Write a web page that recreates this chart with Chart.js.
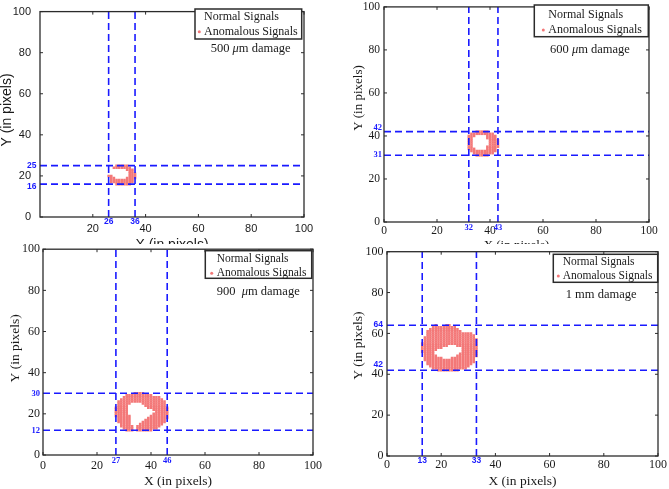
<!DOCTYPE html>
<html>
<head>
<meta charset="utf-8">
<script src="https://cdn.jsdelivr.net/npm/chart.js@4.4.1/dist/chart.umd.min.js"></script>
<style>
  html, body { margin: 0; padding: 0; background: #fff; }
  body { width: 669px; height: 489px; position: relative; overflow: hidden; }
  .clip { position: absolute; overflow: hidden; }
  canvas { position: absolute; }
</style>
</head>
<body>
<script>
// ─── data ───────────────────────────────────────────────────────────────
const axisTicks = [0, 20, 40, 60, 80, 100];
const axisTicksNoZero = [20, 40, 60, 80, 100];
const seriesLabels = ['Normal Signals', 'Anomalous Signals'];
const axisTitles = ['X (in pixels)', 'Y (in pixels)'];
const normalSignals = [];

// anomalous pixels, one run per row: [y, xStart, xEnd]
const rows500 = [
  [25, 29, 33], [24, 28, 34], [23, 33, 35], [22, 34, 35], [21, 34, 36],
  [20, 26, 27], [20, 34, 36], [19, 27, 28], [19, 33, 36],
  [18, 27, 35], [17, 27, 35], [16, 29, 34]
];
const xBounds500 = [26, 36];
const yBounds500 = [16, 25];
const damage500 = ['500 ', 'μ', 'm damage'];

const rows600 = [
  [42, 35, 39], [41, 33, 41], [40, 32, 34], [40, 39, 42],
  [39, 32, 33], [39, 39, 42], [38, 32, 33], [38, 40, 43],
  [37, 32, 33], [37, 40, 43], [36, 32, 33], [36, 40, 43],
  [35, 32, 33], [35, 39, 43], [34, 32, 34], [34, 39, 42],
  [33, 33, 42], [32, 34, 41], [31, 35, 39]
];
const xBounds600 = [32, 43];
const yBounds600 = [31, 42];
const damage600 = ['600 ', 'μ', 'm damage'];

const rows900 = [
  [30, 34, 37], [29, 31, 40], [28, 30, 43], [27, 29, 44], [26, 28, 45],
  [25, 28, 32], [25, 37, 45], [24, 28, 31], [24, 38, 45],
  [23, 27, 31], [23, 39, 46], [22, 27, 31], [22, 41, 46],
  [21, 27, 31], [21, 42, 46], [20, 27, 31], [20, 41, 46],
  [19, 27, 32], [19, 40, 46], [18, 28, 32], [18, 39, 46],
  [17, 28, 32], [17, 38, 45], [16, 28, 32], [16, 37, 45],
  [15, 29, 32], [15, 36, 44], [14, 29, 33], [14, 35, 43],
  [13, 30, 33], [13, 35, 42], [12, 31, 33], [12, 35, 40]
];
const xBounds900 = [27, 46];
const yBounds900 = [12, 30];
const damage900 = ['900  ', 'μ', 'm damage'];

const rows1mm = [
  [64, 18, 18], [64, 22, 23], [63, 17, 25], [62, 16, 26], [61, 15, 27],
  [60, 15, 31], [59, 15, 32], [58, 14, 32], [57, 14, 33], [56, 14, 33], [55, 13, 33],
  [54, 13, 22], [54, 26, 33], [53, 13, 20], [53, 28, 33],
  [52, 13, 18], [52, 28, 33], [51, 13, 17], [51, 28, 33],
  [50, 14, 17], [50, 27, 33], [49, 14, 18], [49, 26, 33],
  [48, 14, 20], [48, 24, 32], [47, 14, 32], [46, 15, 32],
  [45, 15, 31], [44, 16, 30], [43, 17, 29], [42, 19, 26]
];
const xBounds1mm = [13, 33];
const yBounds1mm = [42, 64];
const damage1mm = ['1 mm damage'];

// ─── helpers ─────────────────────────────────────────────────────────────
function rowsToPoints(rows) {
  const pts = [];
  rows.forEach(function(r) {
    for (let x = r[1]; x <= r[2]; x++) pts.push({ x: x, y: r[0] });
  });
  return pts;
}

const SANS = "'Liberation Sans', Arial, sans-serif";
const SERIF = "'Liberation Serif', 'Times New Roman', serif";
const BLUE = '#1a1aff';
const RED = '#f37878';
const INK = '#1a1a1a';

// panel layout (page pixels)
const panels = [
  { rows: rows500, xBounds: xBounds500, yBounds: yBounds500, damage: damage500, xTicks: axisTicksNoZero,
    clip: [0, 0, 335, 244], cv: [-2, -4, 337, 258], padTop: 10, padRight: 31, yW: 42, xH: 37,
    tickFont: SANS, tickSize: 11, titleFont: SANS, titleSize: 14, xPad: 5, yPad: 9, yTitle: [6.7, 110],
    boundFont: 'bold 8.5px ' + SANS, xBoundDy: 5, yBoundDx: 3.5, yBoundDy: [2.7, 0],
    legFont: 12, leg: [195, 9, 106.7, 30], legText: 9, legMark: 4.3, legRows: [7.7, 22.7],
    dmgSize: 12.5, dmg: [15.7, 39.3] },
  { rows: rows600, xBounds: xBounds600, yBounds: yBounds600, damage: damage600, xTicks: axisTicks,
    clip: [335, 0, 334, 244], cv: [350, -4, 319, 257], padTop: 10, padRight: 20, yW: 34, xH: 31,
    tickFont: SERIF, tickSize: 11.5, titleFont: SERIF, titleSize: 13, xPad: 2, yPad: 4, yTitle: [358.3, 98],
    boundFont: 'bold 8.5px ' + SERIF, xBoundDy: 5.5, yBoundDx: 2, yBoundDy: [-0.8, -3.8],
    legFont: 12, leg: [534.3, 5, 114, 31.7], legText: 14, legMark: 9, legRows: [10, 25],
    dmgSize: 12.5, dmg: [15.7, 44.3] },
  { rows: rows900, xBounds: xBounds900, yBounds: yBounds900, damage: damage900, xTicks: axisTicks,
    clip: null, cv: [7, 239, 328, 251], padTop: 10, padRight: 22, yW: 36, xH: 35,
    tickFont: SERIF, tickSize: 12, titleFont: SERIF, titleSize: 13.5, xPad: 4, yPad: 3, yTitle: [15, 348.3],
    boundFont: 'bold 8.5px ' + SERIF, xBoundDy: 6, yBoundDx: 3, yBoundDy: [0, 0.8],
    legFont: 11.5, leg: [205.3, 250.7, 106.4, 27.6], legText: 11.4, legMark: 6.4, legRows: [8.3, 22.6],
    dmgSize: 12.5, dmg: [11.4, 41] },
  { rows: rows1mm, xBounds: xBounds1mm, yBounds: yBounds1mm, damage: damage1mm, xTicks: axisTicks,
    clip: null, cv: [350, 241, 319, 249], padTop: 10, padRight: 10, yW: 37, xH: 34,
    tickFont: SERIF, tickSize: 12, titleFont: SERIF, titleSize: 13.5, xPad: 2, yPad: 3.5, yTitle: [358.3, 345.7],
    boundFont: 'bold 8.5px ' + SANS, xBoundDy: 5, yBoundDx: 4, yBoundDy: [-5.6, -0.8],
    legFont: 11.5, leg: [553.3, 254.3, 104.4, 28], legText: 9.4, legMark: 5, legRows: [7.4, 21.7],
    dmgSize: 12.5, dmg: [12.4, 40.7] }
];

// ─── decoration plugin: frame, inner ticks, y title, bound labels, legend ─
function decorPlugin(p) {
  return {
    id: 'decor',
    afterDatasetsDraw: function(chart) {
      const ctx = chart.ctx, a = chart.chartArea;
      const xs = chart.scales.x, ys = chart.scales.y;
      const ox = p.cv[0], oy = p.cv[1];
      ctx.save();

      // box frame
      ctx.strokeStyle = '#2b2b2b';
      ctx.lineWidth = 1.3;
      ctx.strokeRect(a.left, a.top, a.right - a.left, a.bottom - a.top);

      // inward tick marks on all four sides
      ctx.lineWidth = 1;
      ctx.beginPath();
      xs.ticks.forEach(function(t) {
        const px = xs.getPixelForValue(t.value);
        ctx.moveTo(px, a.bottom); ctx.lineTo(px, a.bottom - 3);
        ctx.moveTo(px, a.top); ctx.lineTo(px, a.top + 3);
      });
      ys.ticks.forEach(function(t) {
        const py = ys.getPixelForValue(t.value);
        ctx.moveTo(a.left, py); ctx.lineTo(a.left + 3, py);
        ctx.moveTo(a.right, py); ctx.lineTo(a.right - 3, py);
      });
      ctx.stroke();

      // y axis title (sits a little above centre in the original)
      ctx.save();
      ctx.translate(p.yTitle[0] - ox, p.yTitle[1] - oy);
      ctx.rotate(-Math.PI / 2);
      ctx.fillStyle = INK;
      ctx.font = p.titleSize + 'px ' + p.titleFont;
      ctx.textAlign = 'center';
      ctx.textBaseline = 'middle';
      ctx.fillText(axisTitles[1], 0, 0);
      ctx.restore();

      // blue labels for the damage bounds
      ctx.fillStyle = BLUE;
      ctx.font = p.boundFont;
      ctx.textAlign = 'center';
      ctx.textBaseline = 'middle';
      p.xBounds.forEach(function(v) {
        ctx.fillText(String(v), xs.getPixelForValue(v), a.bottom + p.xBoundDy);
      });
      ctx.textAlign = 'right';
      p.yBounds.forEach(function(v, i) {
        ctx.fillText(String(v), a.left - p.yBoundDx, ys.getPixelForValue(v) + p.yBoundDy[i]);
      });

      // legend box
      const lx = p.leg[0] - ox, ly = p.leg[1] - oy;
      ctx.fillStyle = '#fff';
      ctx.fillRect(lx, ly, p.leg[2], p.leg[3]);
      ctx.strokeStyle = '#2b2b2b';
      ctx.lineWidth = 1.5;
      ctx.strokeRect(lx, ly, p.leg[2], p.leg[3]);
      ctx.fillStyle = INK;
      ctx.textAlign = 'left';
      ctx.textBaseline = 'middle';
      ctx.font = p.legFont + 'px ' + SERIF;
      seriesLabels.forEach(function(lbl, i) {
        ctx.fillText(lbl, lx + p.legText, ly + p.legRows[i]);
      });
      ctx.fillStyle = RED;
      ctx.beginPath();
      ctx.arc(lx + p.legMark, ly + p.legRows[1], 1.5, 0, Math.PI * 2);
      ctx.fill();

      // damage caption (mu in italics)
      let tx = lx + p.dmg[0];
      const ty = ly + p.dmg[1];
      ctx.fillStyle = INK;
      p.damage.forEach(function(seg) {
        ctx.font = (seg === 'μ' ? 'italic ' : '') + p.dmgSize + 'px ' + SERIF;
        ctx.fillText(seg, tx, ty);
        tx += ctx.measureText(seg).width;
      });

      ctx.restore();
    }
  };
}

// ─── build the four panels ──────────────────────────────────────────────
panels.forEach(function(p) {
  const cv = document.createElement('canvas');
  cv.width = p.cv[2];
  cv.height = p.cv[3];
  if (p.clip) {
    const box = document.createElement('div');
    box.className = 'clip';
    box.style.left = p.clip[0] + 'px';
    box.style.top = p.clip[1] + 'px';
    box.style.width = p.clip[2] + 'px';
    box.style.height = p.clip[3] + 'px';
    cv.style.left = (p.cv[0] - p.clip[0]) + 'px';
    cv.style.top = (p.cv[1] - p.clip[1]) + 'px';
    box.appendChild(cv);
    document.body.appendChild(box);
  } else {
    cv.style.left = p.cv[0] + 'px';
    cv.style.top = p.cv[1] + 'px';
    document.body.appendChild(cv);
  }

  const dashStyle = { type: 'scatter', showLine: true, borderColor: BLUE, borderWidth: 1.6,
                      borderDash: [7, 4], pointRadius: 0, fill: false };
  const lineSets = [];
  p.xBounds.forEach(function(v) {
    lineSets.push(Object.assign({ label: 'x=' + v, data: [{ x: v, y: 0 }, { x: v, y: 100 }] }, dashStyle));
  });
  p.yBounds.forEach(function(v) {
    lineSets.push(Object.assign({ label: 'y=' + v, data: [{ x: 0, y: v }, { x: 100, y: v }] }, dashStyle));
  });

  new Chart(cv.getContext('2d'), {
    type: 'scatter',
    data: {
      datasets: lineSets.concat([
        { label: seriesLabels[1], data: rowsToPoints(p.rows), pointStyle: 'rect',
          pointRadius: 1.8, backgroundColor: RED, borderWidth: 0 },
        { label: seriesLabels[0], data: normalSignals, pointRadius: 0 }
      ])
    },
    options: {
      responsive: false,
      animation: false,
      events: [],
      layout: { padding: { left: 0, top: p.padTop, right: p.padRight, bottom: 0 } },
      plugins: { legend: { display: false }, tooltip: { enabled: false } },
      scales: {
        x: {
          type: 'linear', min: 0, max: 100,
          afterBuildTicks: function(s) { s.ticks = p.xTicks.map(function(v) { return { value: v }; }); },
          afterFit: function(s) { s.height = p.xH; },
          grid: { display: false, drawTicks: false },
          border: { display: false },
          ticks: { padding: p.xPad, color: INK, maxRotation: 0, autoSkip: false,
                   font: { family: p.tickFont, size: p.tickSize } },
          title: { display: true, text: axisTitles[0], padding: 0, color: INK,
                   font: { family: p.titleFont, size: p.titleSize } }
        },
        y: {
          type: 'linear', min: 0, max: 100,
          afterBuildTicks: function(s) { s.ticks = axisTicks.map(function(v) { return { value: v }; }); },
          afterFit: function(s) { s.width = p.yW; },
          grid: { display: false, drawTicks: false },
          border: { display: false },
          ticks: { padding: p.yPad, color: INK, autoSkip: false,
                   font: { family: p.tickFont, size: p.tickSize } }
        }
      }
    },
    plugins: [decorPlugin(p)]
  });
});
</script>
</body>
</html>
